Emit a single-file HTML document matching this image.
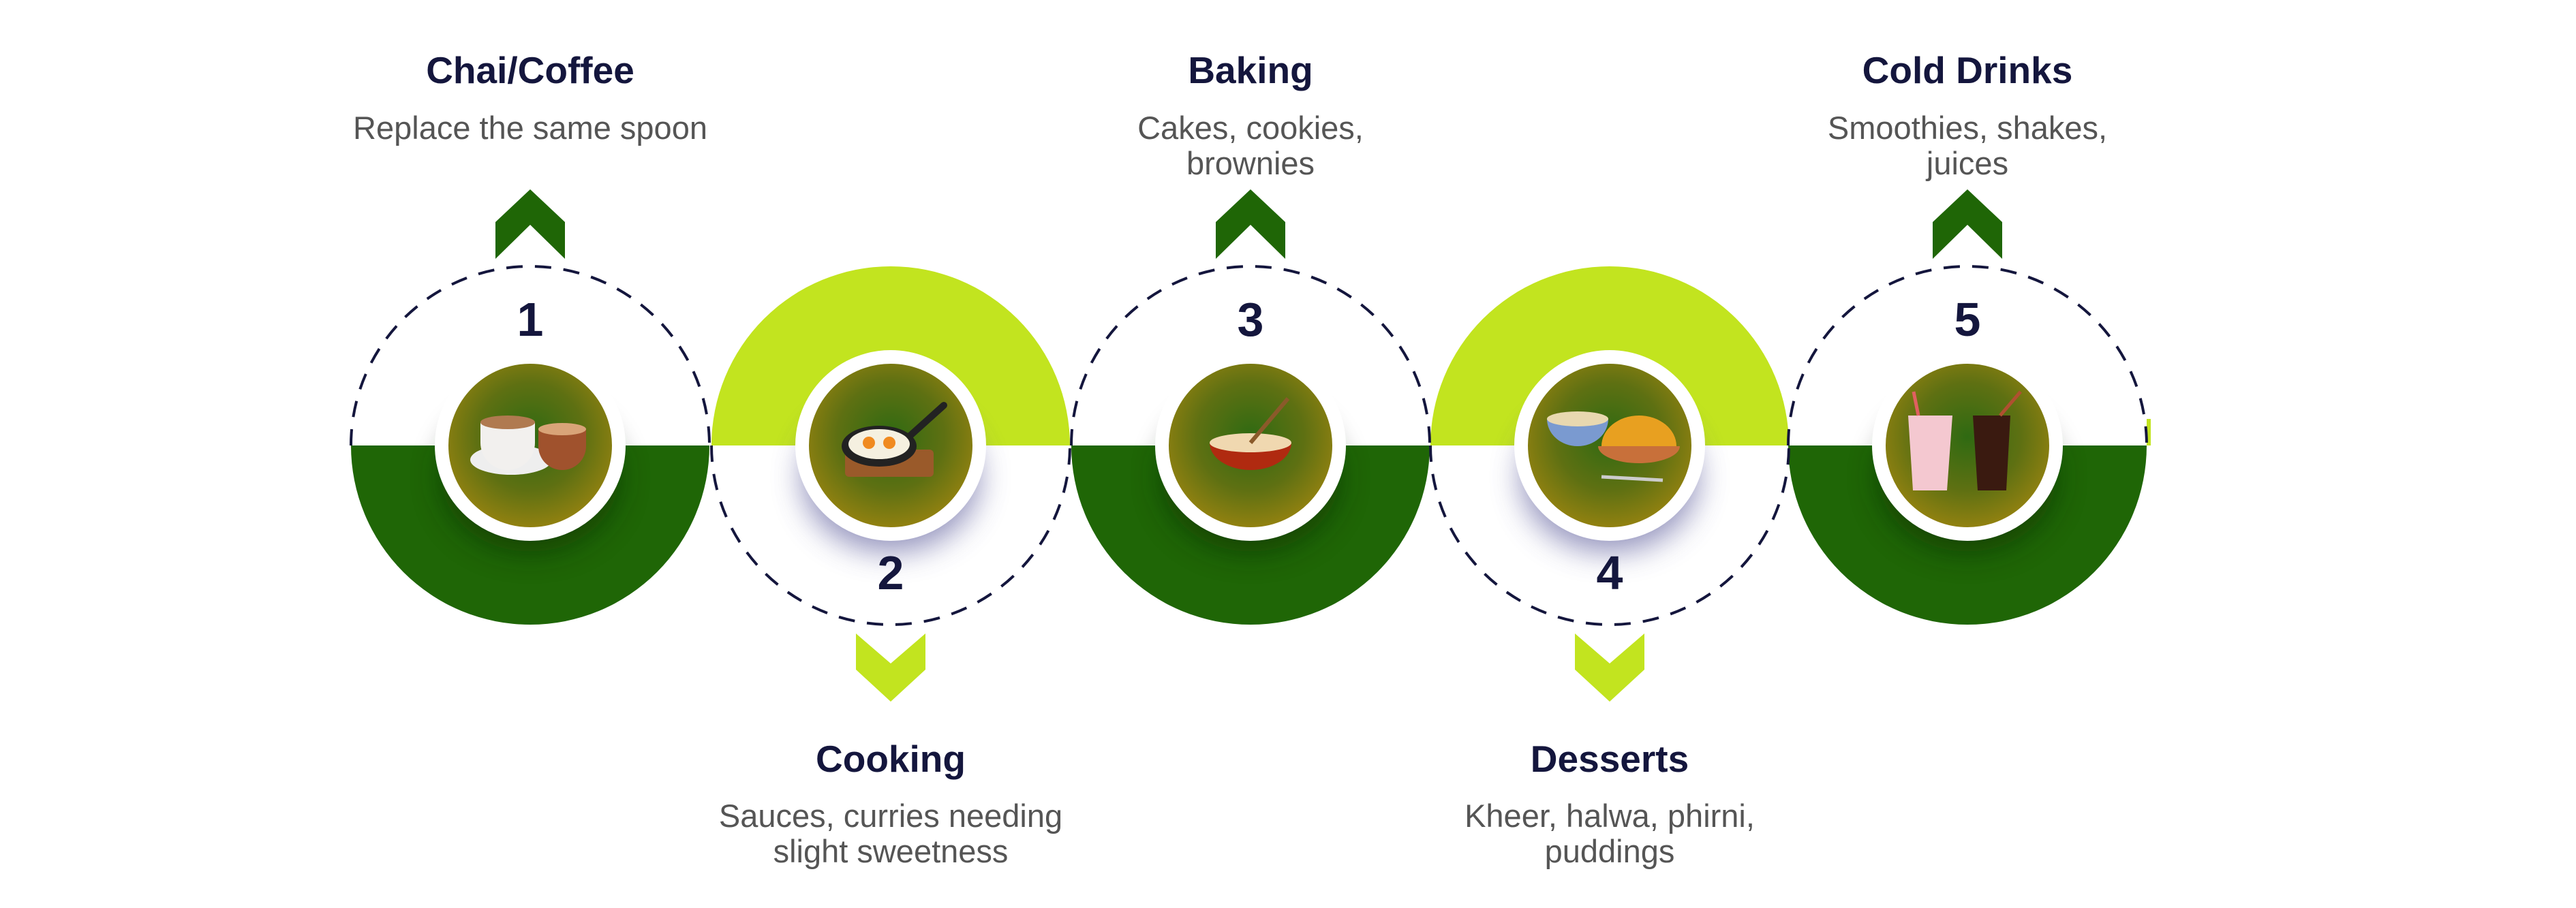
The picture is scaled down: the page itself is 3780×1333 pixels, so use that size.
<!DOCTYPE html>
<html><head><meta charset="utf-8"><style>
html,body{margin:0;padding:0;background:#fff;}
svg{display:block}
.t{font-family:"Liberation Sans",sans-serif;font-weight:bold;fill:#14163d;font-size:55px;text-anchor:middle}
.s{font-family:"Liberation Sans",sans-serif;fill:#555;font-size:47px;text-anchor:middle}
.n{font-family:"Liberation Sans",sans-serif;font-weight:bold;fill:#14163d;font-size:70px;text-anchor:middle}
</style></head><body>
<svg width="3780" height="1333" viewBox="0 0 3780 1333" xmlns="http://www.w3.org/2000/svg">
<defs>
<radialGradient id="g" cx="50%" cy="45%" r="55%">
<stop offset="0" stop-color="#2f6a12"/><stop offset="0.55" stop-color="#5e7012"/><stop offset="1" stop-color="#9a8410"/>
</radialGradient>
<filter id="b" x="-50%" y="-50%" width="200%" height="200%"><feGaussianBlur stdDeviation="22"/></filter>
</defs>

<path d="M515 654 A263 263 0 0 0 1041 654 Z" fill="#1f6606"/>
<path d="M1044 654 A263 263 0 0 1 1570 654 Z" fill="#c2e41f"/>
<path d="M1572 654 A263 263 0 0 0 2098 654 Z" fill="#1f6606"/>
<path d="M2099 654 A263 263 0 0 1 2625 654 Z" fill="#c2e41f"/>
<path d="M2624 654 A263 263 0 0 0 3150 654 Z" fill="#1f6606"/>
<rect x="3150" y="615" width="6" height="39" fill="#c2e41f"/>

<g fill="none" stroke="#14163d" stroke-width="4" stroke-dasharray="24 18">
<path d="M515 654 A263 263 0 0 1 1041 654"/>
<path d="M1044 654 A263 263 0 0 0 1570 654"/>
<path d="M1572 654 A263 263 0 0 1 2098 654"/>
<path d="M2099 654 A263 263 0 0 0 2625 654"/>
<path d="M2624 654 A263 263 0 0 1 3150 654"/>
</g>

<ellipse cx="778" cy="700" rx="130" ry="110" fill="#0a2a04" opacity="0.6" filter="url(#b)"/>
<ellipse cx="1307" cy="700" rx="130" ry="110" fill="#4a4a90" opacity="0.6" filter="url(#b)"/>
<ellipse cx="1835" cy="700" rx="130" ry="110" fill="#0a2a04" opacity="0.6" filter="url(#b)"/>
<ellipse cx="2362" cy="700" rx="130" ry="110" fill="#4a4a90" opacity="0.6" filter="url(#b)"/>
<ellipse cx="2887" cy="700" rx="130" ry="110" fill="#0a2a04" opacity="0.6" filter="url(#b)"/>

<g stroke="#fff" stroke-width="20" fill="url(#g)">
<circle cx="778" cy="654" r="130"/>
<circle cx="1307" cy="654" r="130"/>
<circle cx="1835" cy="654" r="130"/>
<circle cx="2362" cy="654" r="130"/>
<circle cx="2887" cy="654" r="130"/>
</g>

<g>
<ellipse cx="750" cy="675" rx="60" ry="22" fill="#eee"/>
<path d="M705 620 h80 v30 a40 40 0 0 1 -80 0 z" fill="#f2f0ee"/>
<ellipse cx="745" cy="620" rx="40" ry="10" fill="#b07a50"/>
<path d="M790 630 h70 v25 a35 35 0 0 1 -70 0 z" fill="#a0522d"/>
<ellipse cx="825" cy="630" rx="35" ry="9" fill="#d9a478"/>
</g>
<g>
<rect x="1240" y="660" width="130" height="40" rx="6" fill="#9a5a2a"/>
<ellipse cx="1290" cy="655" rx="55" ry="30" fill="#222"/>
<ellipse cx="1290" cy="652" rx="45" ry="22" fill="#f5f0e0"/>
<circle cx="1275" cy="650" r="9" fill="#f08a20"/><circle cx="1305" cy="650" r="9" fill="#f08a20"/>
<line x1="1335" y1="640" x2="1385" y2="595" stroke="#222" stroke-width="10" stroke-linecap="round"/>
</g>
<g>
<path d="M1775 650 a60 40 0 0 0 120 0 z" fill="#b02a10"/>
<ellipse cx="1835" cy="650" rx="60" ry="14" fill="#f0d8b0"/>
<line x1="1835" y1="650" x2="1890" y2="585" stroke="#8a5a2a" stroke-width="6"/>
</g>
<g>
<path d="M2270 615 h90 a45 40 0 0 1 -90 0 z" fill="#7a9ad0"/>
<ellipse cx="2315" cy="615" rx="45" ry="11" fill="#e8d8b0"/>
<path d="M2350 655 a55 45 0 0 1 110 0 z" fill="#e8a020"/>
<path d="M2345 655 h120 a60 25 0 0 1 -120 0 z" fill="#c8703a"/>
<line x1="2350" y1="700" x2="2440" y2="705" stroke="#ccc" stroke-width="5"/>
</g>
<g>
<path d="M2800 610 h65 l-8 110 h-50 z" fill="#f4c8d0"/>
<path d="M2895 610 h55 l-6 110 h-42 z" fill="#3a1a10"/>
<line x1="2815" y1="610" x2="2808" y2="575" stroke="#e06060" stroke-width="5"/>
<line x1="2935" y1="610" x2="2965" y2="575" stroke="#b05030" stroke-width="5"/>
</g>

<g fill="#1f6606">
<polygon points="778,278 829,326 829,380 778,330 727,380 727,326"/>
<polygon points="1835,278 1886,326 1886,380 1835,330 1784,380 1784,326"/>
<polygon points="2887,278 2938,326 2938,380 2887,330 2836,380 2836,326"/>
</g>
<g fill="#c2e41f">
<polygon points="1256,930 1307,974 1358,930 1358,983 1307,1030 1256,983"/>
<polygon points="2311,930 2362,974 2413,930 2413,983 2362,1030 2311,983"/>
</g>

<text class="n" x="778" y="493">1</text>
<text class="n" x="1307" y="865">2</text>
<text class="n" x="1835" y="493">3</text>
<text class="n" x="2362" y="865">4</text>
<text class="n" x="2887" y="493">5</text>

<text class="t" x="778" y="122">Chai/Coffee</text>
<text class="s" x="778" y="204">Replace the same spoon</text>

<text class="t" x="1835" y="122">Baking</text>
<text class="s" x="1835" y="204">Cakes, cookies,</text>
<text class="s" x="1835" y="256">brownies</text>

<text class="t" x="2887" y="122">Cold Drinks</text>
<text class="s" x="2887" y="204">Smoothies, shakes,</text>
<text class="s" x="2887" y="256">juices</text>

<text class="t" x="1307" y="1133">Cooking</text>
<text class="s" x="1307" y="1214">Sauces, curries needing</text>
<text class="s" x="1307" y="1266">slight sweetness</text>

<text class="t" x="2362" y="1133">Desserts</text>
<text class="s" x="2362" y="1214">Kheer, halwa, phirni,</text>
<text class="s" x="2362" y="1266">puddings</text>
</svg>
</body></html>
